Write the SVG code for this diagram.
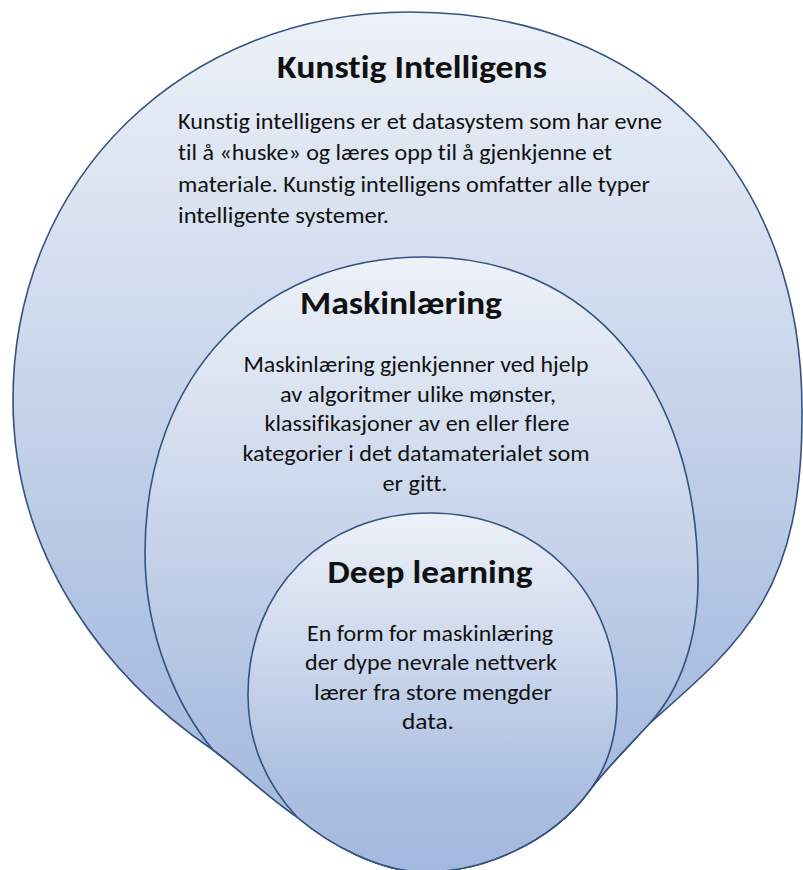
<svg xmlns="http://www.w3.org/2000/svg" width="803" height="870" viewBox="0 0 803 870">
  <defs>
    <linearGradient id="fillBlue" x1="0" y1="0" x2="0" y2="1">
      <stop offset="0" stop-color="#edf1f8"/>
      <stop offset="0.4" stop-color="#cbd7ec"/>
      <stop offset="0.75" stop-color="#adc0e1"/>
      <stop offset="1" stop-color="#a3b8dd"/>
    </linearGradient>
  </defs>
  <style>
    .shape { fill: url(#fillBlue); stroke: #34527f; stroke-width: 1.6; }
    text { font-family: Carlito, Calibri, Lato, "Liberation Sans", sans-serif; fill: #111; font-variant-ligatures: none; }
    .title { font-weight: bold; font-size: 32px; }
    .body { font-size: 22px; }
    .mid { text-anchor: middle; }
  </style>

  <!-- Outer set: Kunstig Intelligens -->
  <g id="node-kunstig-intelligens">
    <path class="shape" d="M 213,750 C 110,680 13,560 13,400 C 13,178 184,12 410,12 C 646,12 802,170 802,410 C 803,590 745,640 650,723 C 625,750 605,770 590,790 C 550,845 480,872 425,872 C 380,872 330,845 297,817 C 265,795 240,770 213,750 Z"/>
    <text class="title mid" x="412" y="78" textLength="270" lengthAdjust="spacingAndGlyphs">Kunstig Intelligens</text>
    <text class="body" x="178" y="129" textLength="484" lengthAdjust="spacingAndGlyphs">Kunstig intelligens er et datasystem som har evne</text>
    <text class="body" x="178" y="160" textLength="434" lengthAdjust="spacingAndGlyphs">til å «huske» og læres opp til å gjenkjenne et</text>
    <text class="body" x="178" y="192" textLength="472" lengthAdjust="spacingAndGlyphs">materiale. Kunstig intelligens omfatter alle typer</text>
    <text class="body" x="178" y="223" textLength="211" lengthAdjust="spacingAndGlyphs">intelligente systemer.</text>
  </g>

  <!-- Middle set: Maskinlæring -->
  <g id="node-maskinlaering">
    <path class="shape" d="M 213,750 C 180,710 145,640 145,553 C 145,375 260,257 425,257 C 590,257 698,386 698,580 C 698,640 680,690 650,723 C 625,750 605,770 590,790 C 550,845 480,872 425,872 C 380,872 330,845 297,817 C 265,795 240,770 213,750 Z"/>
    <text class="title mid" x="401" y="314" textLength="202" lengthAdjust="spacingAndGlyphs">Maskinlæring</text>
    <text class="body mid" x="416" y="372" textLength="345" lengthAdjust="spacingAndGlyphs">Maskinlæring gjenkjenner ved hjelp</text>
    <text class="body mid" x="418" y="402" textLength="276" lengthAdjust="spacingAndGlyphs">av algoritmer ulike mønster,</text>
    <text class="body mid" x="417" y="431" textLength="305" lengthAdjust="spacingAndGlyphs">klassifikasjoner av en eller flere</text>
    <text class="body mid" x="416" y="461" textLength="347" lengthAdjust="spacingAndGlyphs">kategorier i det datamaterialet som</text>
    <text class="body mid" x="415" y="491" textLength="65" lengthAdjust="spacingAndGlyphs">er gitt.</text>
  </g>

  <!-- Inner set: Deep learning -->
  <g id="node-deep-learning">
    <path class="shape" d="M 297,817 C 272,790 248,750 248,695 C 248,589 324,513 430,513 C 538,513 617,592 617,700 C 617,740 605,770 590,790 C 550,845 480,872 425,872 C 380,872 330,845 297,817 Z"/>
    <text class="title mid" x="430" y="583" textLength="205" lengthAdjust="spacingAndGlyphs">Deep learning</text>
    <text class="body mid" x="430" y="641" textLength="246" lengthAdjust="spacingAndGlyphs">En form for maskinlæring</text>
    <text class="body mid" x="431" y="670" textLength="252" lengthAdjust="spacingAndGlyphs">der dype nevrale nettverk</text>
    <text class="body mid" x="433" y="700" textLength="238" lengthAdjust="spacingAndGlyphs">lærer fra store mengder</text>
    <text class="body mid" x="428" y="729" textLength="52" lengthAdjust="spacingAndGlyphs">data.</text>
  </g>
</svg>
